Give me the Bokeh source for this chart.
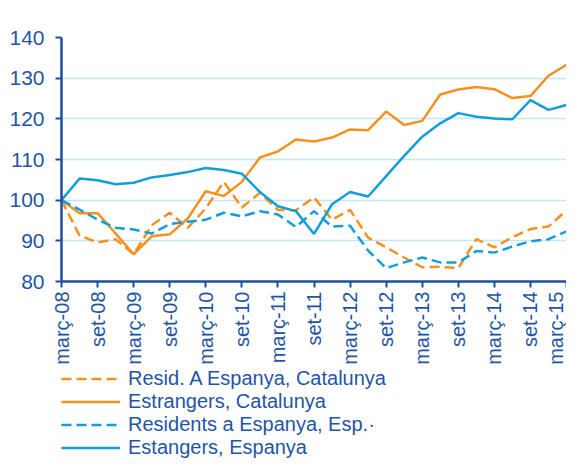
import math
from bokeh.plotting import figure
from bokeh.layouts import column
from bokeh.models import Legend, LegendItem, FixedTicker, Range1d
from bokeh.embed import file_html
from bokeh.resources import INLINE

# ---- data ----
periods = []
for yy in range(8, 16):
    for q in ["març", "juny", "set", "des"]:
        periods.append(f"{q}-{yy:02d}")
periods = periods[:29]  # març-08 .. març-15

resid_cat = [100, 91.3, 89.6, 90.4, 86.7, 93.8, 96.9, 93.2, 98.0, 104.5, 98.2, 101.8, 97.6, 97.5,
             100.7, 95.2, 97.6, 90.8, 88.4, 85.9, 83.5, 83.6, 83.3, 90.4, 88.4, 90.9, 92.9, 93.5, 97.5]
estr_cat = [100, 96.8, 96.8, 91.8, 86.7, 91.1, 91.6, 95.5, 102.2, 101.0, 104.5, 110.5, 112.0, 114.9,
            114.4, 115.4, 117.4, 117.2, 121.8, 118.5, 119.5, 126.0, 127.2, 127.8, 127.3, 125.1, 125.6, 130.6, 133.3]
resid_esp = [100, 97.7, 95.2, 93.2, 92.8, 91.8, 94.1, 94.7, 95.2, 96.9, 96.0, 97.3, 96.5, 93.4,
             97.3, 93.5, 93.7, 87.6, 83.3, 84.7, 85.9, 84.7, 84.7, 87.5, 87.1, 88.6, 89.9, 90.4, 92.3]
estr_esp = [100, 105.3, 104.9, 103.9, 104.3, 105.6, 106.2, 106.9, 107.9, 107.4, 106.5, 102.0, 98.5, 97.3,
            91.7, 99.0, 102.0, 100.9, 105.9, 110.9, 115.6, 118.9, 121.4, 120.5, 120.1, 119.9, 124.6, 122.2, 123.4]

series_names = ["Resid. A Espanya, Catalunya", "Estrangers, Catalunya",
                "Residents a Espanya, Esp.·", "Estangers, Espanya"]
series_values = [resid_cat, estr_cat, resid_esp, estr_esp]
y_ticks = [80, 90, 100, 110, 120, 130, 140]

ORANGE = "#F7901E"
BLUE = "#129EDC"
TEXT = "#1F55A6"
AXIS = "#1E4FA0"
GRID = "#C4E6F7"
FONT = "Liberation Sans"
DASH = "10 5"
styles = [(ORANGE, DASH), (ORANGE, "solid"), (BLUE, DASH), (BLUE, "solid")]

x = list(range(len(periods)))

W = 566
TOP_H = 367
LEG_H = 92

p = figure(width=W, height=TOP_H, output_backend="svg", toolbar_location=None,
           x_range=Range1d(0, len(periods) - 1), y_range=Range1d(80, 140),
           min_border_left=61, min_border_right=0, min_border_top=37, min_border_bottom=TOP_H - 283)
p.outline_line_color = None

for vals, (col, dash) in zip(series_values, styles):
    p.line(x, vals, line_color=col, line_width=2.5, line_dash=dash)

p.xgrid.grid_line_color = None
p.ygrid.grid_line_color = GRID
p.ygrid.grid_line_width = 1.5
p.ygrid.ticker = FixedTicker(ticks=y_ticks)

p.yaxis.ticker = FixedTicker(ticks=y_ticks)
p.xaxis.ticker = FixedTicker(ticks=x[::2])
p.xaxis.major_label_overrides = {i: periods[i] for i in x[::2]}
p.xaxis.major_label_orientation = math.pi / 2

for ax in (p.xaxis[0], p.yaxis[0]):
    ax.axis_line_color = AXIS
    ax.axis_line_width = 2.5
    ax.major_tick_line_color = AXIS
    ax.major_tick_line_width = 2
    ax.major_tick_out = 6
    ax.major_tick_in = 0
    ax.minor_tick_line_color = None
    ax.major_label_text_color = TEXT
    ax.major_label_text_font = FONT
p.yaxis[0].major_label_text_font_size = "21px"
p.yaxis[0].major_label_standoff = 11
p.xaxis[0].major_label_text_font_size = "20px"
p.xaxis[0].major_label_standoff = 4

# ---- legend figure (series drawn out of its view range, only legend is visible) ----
q = figure(width=W, height=LEG_H, output_backend="svg", toolbar_location=None,
           x_range=Range1d(0, 1), y_range=Range1d(0, 1),
           x_axis_location=None, y_axis_location=None,
           min_border_left=0, min_border_right=0, min_border_top=0, min_border_bottom=0)
q.outline_line_color = None
q.xgrid.grid_line_color = None
q.ygrid.grid_line_color = None

ROW_H = 23
row_bottoms = [69, 46, 23, 0]  # legend row positions (px from bottom of legend strip)
for name, vals, (col, dash), yb in zip(series_names, series_values, styles, row_bottoms):
    r = q.line(x, vals, line_color=col, line_width=2.5, line_dash=dash)
    lg = Legend(items=[LegendItem(label=name, renderers=[r])], location=(0, yb),
                orientation="vertical")
    lg.label_text_font = FONT
    lg.label_text_font_size = "20px"
    lg.label_text_color = TEXT
    lg.glyph_width = 59
    lg.glyph_height = ROW_H
    lg.label_height = ROW_H
    lg.spacing = 0
    lg.padding = 0
    lg.margin = 0
    lg.label_standoff = 8
    lg.border_line_color = None
    lg.background_fill_alpha = 0
    q.add_layout(lg, "center")

layout = column(p, q, spacing=0)
open("out.html", "w").write(file_html(layout, INLINE))
